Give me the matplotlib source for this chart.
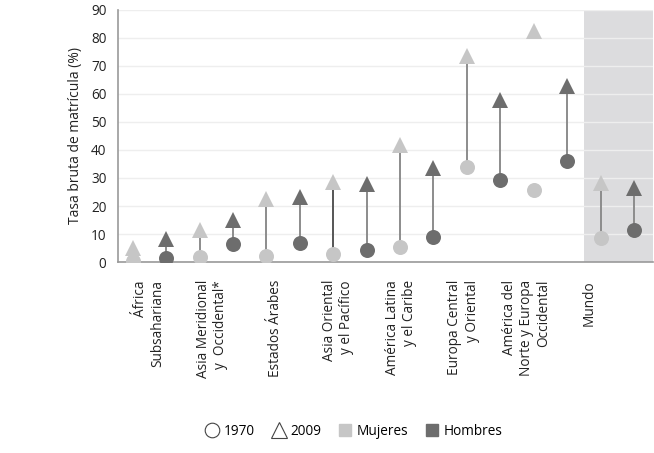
import numpy as np
import matplotlib
matplotlib.use("Agg")
import matplotlib.pyplot as plt
from matplotlib.lines import Line2D

plt.rcParams['font.family'] = ['Open Sans', 'DejaVu Sans']

regions = ['África\nSubsahariana', 'Asia Meridional\ny  Occidental*', 'Estados Árabes',
           'Asia Oriental\ny el Pacífico', 'América Latina\ny el Caribe',
           'Europa Central\ny Oriental', 'América del\nNorte y Europa\nOccidental', 'Mundo']
mujeres_1970 = [0.5, 1.9, 2.1, 2.8, 5.5, 34, 25.7, 8.5]
mujeres_2009 = [5, 11.3, 22.4, 28.6, 41.8, 73.5, 82.6, 28.3]
hombres_1970 = [1.4, 6.4, 6.7, 4.3, 9, 29.3, 36, 11.4]
hombres_2009 = [8.2, 15, 23.3, 27.9, 33.5, 57.9, 63, 26.6]

c_muj = '#c6c6c6'
c_hom = '#6d6d6d'

fig = plt.figure(figsize=(6.54, 4.53), dpi=100)
ax = fig.add_axes([0.180, 0.4216, 0.818, 0.5564])

n = len(regions)
xw = np.arange(n) * 2
xm = xw + 1

# grey band for "Mundo"
ax.axvspan(xw[-1] - 0.5, xm[-1] + 0.56, color='#dcdcde', zorder=0, lw=0)

for i in range(n):
    if i != 6:
        lc = '#555555' if i == 3 else '#8c8c8c'
        ax.plot([xw[i], xw[i]], [mujeres_1970[i], mujeres_2009[i]], color=lc, lw=1.4, zorder=2)
    ax.plot([xm[i], xm[i]], [hombres_1970[i], hombres_2009[i]], color='#8c8c8c', lw=1.4, zorder=2)

ms_c = 10.8
ms_t = 12.2
ax.plot(xw, mujeres_1970, 'o', color=c_muj, ms=ms_c, mew=0, zorder=3)
ax.plot(xw, mujeres_2009, '^', color=c_muj, ms=ms_t, mew=0, zorder=3)
ax.plot(xm, hombres_1970, 'o', color=c_hom, ms=ms_c, mew=0, zorder=3)
ax.plot(xm, hombres_2009, '^', color=c_hom, ms=ms_t, mew=0, zorder=3)

ax.set_xlim(-0.45, 15.56)
ax.set_ylim(0, 90)
ax.set_yticks(np.arange(0, 91, 10))
ax.yaxis.grid(True, color='#eeeeee', lw=1)
ax.set_axisbelow(True)
ax.tick_params(axis='both', length=0, labelsize=9.8, colors='#222222')
ax.tick_params(axis='y', pad=8)

ax.set_xticks(0.5 + np.arange(n) * 1.88)
ax.set_xticklabels(regions, rotation=90, va='top', ha='center', multialignment='right')
ax.tick_params(axis='x', pad=13)

for s in ['top', 'right']:
    ax.spines[s].set_visible(False)
for s in ['left', 'bottom']:
    ax.spines[s].set_color('#999999')
    ax.spines[s].set_linewidth(1.2)

ax.set_ylabel('Tasa bruta de matrícula (%)', fontsize=10, color='#222222', labelpad=6)

handles = [
    Line2D([], [], marker='o', ls='', mfc='white', mec='#444444', mew=0.8, ms=10.5),
    Line2D([], [], marker='^', ls='', mfc='white', mec='#444444', mew=0.8, ms=12),
    Line2D([], [], marker='s', ls='', color=c_muj, ms=9),
    Line2D([], [], marker='s', ls='', color=c_hom, ms=9),
]
fig.legend(handles, ['1970', '2009', 'Mujeres', 'Hombres'], loc='center',
           bbox_to_anchor=(0.542, 0.047), ncol=4, frameon=False, fontsize=9.8,
           handlelength=0.8, handletextpad=0.45, columnspacing=1.35)

fig.savefig('out.png', dpi=100)
